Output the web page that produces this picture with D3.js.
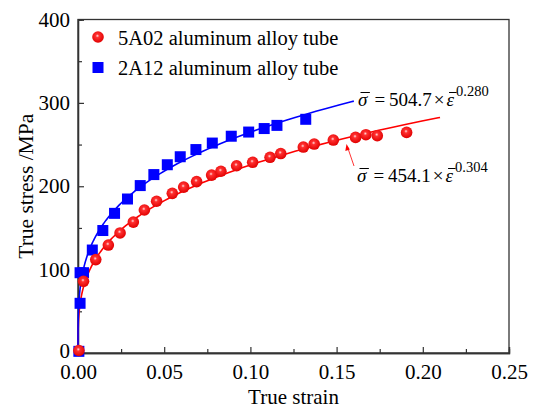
<!DOCTYPE html>
<html>
<head>
<meta charset="utf-8">
<script src="https://cdn.jsdelivr.net/npm/d3@7"></script>
<style>
  body { margin: 0; background: #fff; }
  svg text { font-family: "Liberation Serif", "Times New Roman", serif !important; fill: #000; }
</style>
</head>
<body>
<div class="chart"></div>
<script>
// valeurs
var strain5A02 = [0.0005, 0.0032, 0.0103, 0.0176, 0.0244, 0.0321, 0.0385, 0.0456, 0.0547, 0.0613,
  0.0688, 0.0775, 0.0829, 0.0920, 0.1013, 0.1114, 0.1176, 0.1307, 0.1370, 0.1481,
  0.1610, 0.1670, 0.1736, 0.1906];
var stress5A02 = [3, 86, 112, 129.5, 144, 157, 171.5, 182, 191.5, 199,
  205.6, 213.4, 218, 224.6, 228.7, 234.7, 239.2, 247, 250.6, 255.4,
  258.6, 261.8, 260.6, 264.6];

var strain2A12 = [0.0005, 0.0012, 0.0012, 0.0032, 0.0083, 0.0144, 0.0212, 0.0287, 0.0361, 0.0440,
  0.0518, 0.0593, 0.0684, 0.0779, 0.0889, 0.0990, 0.1080, 0.1154, 0.1321];
var stress2A12 = [2, 59.6, 96.3, 96.3, 123.5, 146.9, 167.5, 184.7, 200.8, 214,
  225.8, 235.4, 244, 251.8, 260, 265, 269.2, 273, 280.3];

// loi puissance sigma = K * eps^n
var seriesNames = ["5A02 aluminum alloy tube", "2A12 aluminum alloy tube"];
var fitK = [454.1, 504.7];
var fitN = [0.304, 0.280];
var fitEnd = [0.21, 0.16];

var xTicks = [0, 0.05, 0.10, 0.15, 0.20, 0.25];
var yTicks = [0, 100, 200, 300, 400];

var width = 534, height = 410;
var margin = {left: 78, top: 19.5, right: 25, bottom: 57};
var serif = "'Liberation Serif', 'Times New Roman', serif";

var svg = d3.select(".chart").append("svg")
  .attr("width", width)
  .attr("height", height);

var x = d3.scaleLinear().domain([0, 0.25]).range([margin.left, width - margin.right]);
var y = d3.scaleLinear().domain([0, 400]).range([height - margin.bottom, margin.top]);

// gradient pour les boules rouges
var defs = svg.append("defs");
var grad = defs.append("radialGradient").attr("id", "ball")
  .attr("cx", "45%").attr("cy", "40%").attr("r", "60%");
grad.append("stop").attr("offset", "0%").attr("stop-color", "#ffe0e0");
grad.append("stop").attr("offset", "25%").attr("stop-color", "#ff3030");
grad.append("stop").attr("offset", "100%").attr("stop-color", "#e00000");

// cadre
svg.append("rect")
  .attr("x", x(0)).attr("y", y(400))
  .attr("width", x(0.25) - x(0)).attr("height", y(0) - y(400))
  .attr("fill", "none").attr("stroke", "#333").attr("stroke-width", 1.3);

// axes, graduations vers l'intérieur
svg.append("g").attr("transform", "translate(0," + y(0) + ")")
  .call(d3.axisBottom(x).tickValues(xTicks).tickSize(-6).tickPadding(11)
    .tickFormat(d3.format(".2f")));
svg.append("g").attr("transform", "translate(0," + y(0) + ")")
  .call(d3.axisBottom(x).tickValues(d3.range(0.025, 0.25, 0.05)).tickSize(-4).tickFormat(""));

var yAxis = svg.append("g").attr("transform", "translate(" + x(0) + ",0)")
  .call(d3.axisLeft(y).tickValues(yTicks).tickSize(-6).tickPadding(8));
svg.append("g").attr("transform", "translate(" + x(0) + ",0)")
  .call(d3.axisLeft(y).tickValues([50, 150, 250, 350]).tickSize(-4).tickFormat(""));

svg.selectAll(".domain").attr("stroke", "#333").attr("stroke-width", 1.3);
svg.selectAll(".tick line").attr("stroke", "#333").attr("stroke-width", 1.2);
svg.selectAll(".tick text")
  .style("font-family", serif)
  .style("font-size", "21px").attr("fill", "#000");
// le "0" remonte un peu pour ne pas toucher "0.00"
yAxis.selectAll(".tick text").filter(function(d) { return d === 0; }).attr("dy", "0.2em");

// titres des axes
svg.append("text")
  .attr("x", x(0.125)).attr("y", 404)
  .attr("text-anchor", "middle")
  .style("font-family", serif).style("font-size", "21px")
  .text("True strain");
svg.append("text")
  .attr("transform", "translate(33," + y(200) + ") rotate(-90)")
  .attr("text-anchor", "middle")
  .style("font-family", serif).style("font-size", "21.5px")
  .text("True stress /MPa");

// courbes d'ajustement
var line = d3.line().x(function(d) { return x(d[0]); }).y(function(d) { return y(d[1]); });
var colors = ["#ff0000", "#0000ff"];
fitK.forEach(function(k, i) {
  var pts = [[0, 0]];
  for (var e = -5; e <= Math.log10(fitEnd[i]) + 1e-9; e += 0.02) {
    var s = Math.pow(10, e);
    pts.push([s, k * Math.pow(s, fitN[i])]);
  }
  pts.push([fitEnd[i], k * Math.pow(fitEnd[i], fitN[i])]);
  svg.append("path").datum(pts)
    .attr("d", line).attr("fill", "none")
    .attr("stroke", colors[i]).attr("stroke-width", 1.6);
});

// points
var red = strain5A02.map(function(s, i) { return [s, stress5A02[i]]; });
var blue = strain2A12.map(function(s, i) { return [s, stress2A12[i]]; });

svg.selectAll(".carre").data(blue).enter().append("rect")
  .attr("class", "carre")
  .attr("x", function(d) { return x(d[0]) - 5.5; })
  .attr("y", function(d) { return y(d[1]) - 5.5; })
  .attr("width", 11).attr("height", 11)
  .attr("fill", "#0000ff");

svg.selectAll(".boule").data(red).enter().append("circle")
  .attr("class", "boule")
  .attr("cx", function(d) { return x(d[0]); })
  .attr("cy", function(d) { return y(d[1]); })
  .attr("r", 5.8)
  .attr("fill", "url(#ball)");

// légende
svg.append("circle").attr("cx", 98).attr("cy", 37).attr("r", 5.8).attr("fill", "url(#ball)");
svg.append("text").attr("x", 118).attr("y", 44.5)
  .style("font-family", serif).style("font-size", "20.5px").text(seriesNames[0]);
svg.append("rect").attr("x", 92.5).attr("y", 62).attr("width", 11).attr("height", 11).attr("fill", "#0000ff");
svg.append("text").attr("x", 118).attr("y", 75)
  .style("font-family", serif).style("font-size", "20.5px").text(seriesNames[1]);

// équations
function equation(x0, y0, k, n) {
  var g = svg.append("g");
  var cx = x0;
  function piece(str, opts) {
    var t = g.append("text").attr("x", cx).attr("y", y0 + (opts.dy || 0))
      .style("font-family", serif)
      .style("font-size", (opts.size || 19) + "px")
      .style("font-style", opts.italic ? "italic" : "normal")
      .text(str);
    var w = t.node().getComputedTextLength();
    if (opts.bar) {
      g.append("line").attr("x1", cx + 2.5).attr("x2", cx + w + 2.5)
        .attr("y1", y0 - 13.5).attr("y2", y0 - 13.5)
        .attr("stroke", "#000").attr("stroke-width", 1);
    }
    cx += w + (opts.gap || 0);
  }
  piece("\u03c3", {italic: true, bar: true, gap: 7});
  piece("=", {gap: 4});
  piece(k.toFixed(1), {gap: 2});
  piece("\u00d7", {gap: 2});
  piece("\u03b5", {italic: true, bar: true, gap: 2});
  piece(n.toFixed(3), {size: 14.5, dy: -10});
}
equation(358, 106, fitK[1], fitN[1]);
equation(357, 182, fitK[0], fitN[0]);

// flèche rouge vers la courbe 5A02
svg.append("line")
  .attr("x1", 354).attr("y1", 166).attr("x2", 347.5).attr("y2", 147)
  .attr("stroke", "#ff0000").attr("stroke-width", 0.8);
svg.append("path")
  .attr("d", "M346.5,144 L345.3,151 L349.8,149.5 Z")
  .attr("fill", "#ff0000");
</script>
</body>
</html>
